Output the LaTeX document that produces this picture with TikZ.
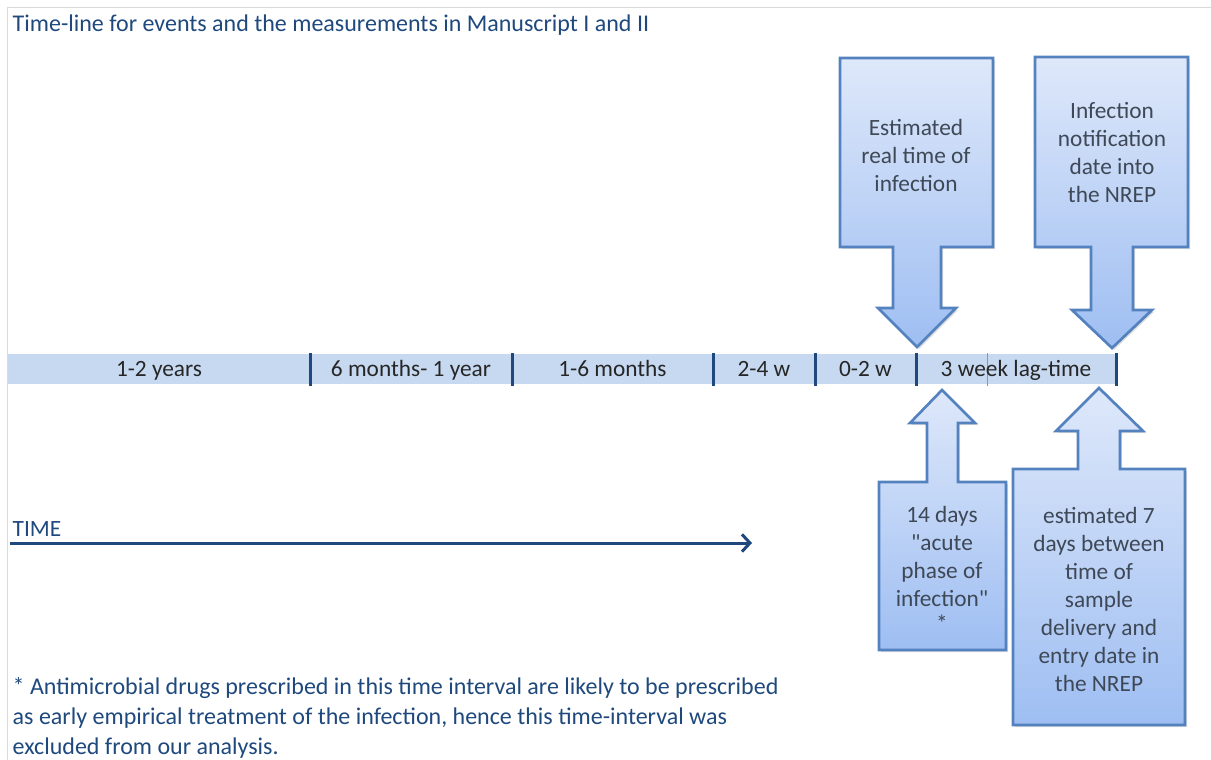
\documentclass[tikz,border=0pt]{standalone}
\usepackage{fontspec}
\setmainfont{Carlito}
\usetikzlibrary{arrows.meta, shadows}
\definecolor{timeblue}{RGB}{31, 73, 125}
\definecolor{bandfill}{RGB}{198, 217, 241}
\definecolor{calloutline}{RGB}{84, 130, 190}
\definecolor{callouttop}{RGB}{222, 232, 250}
\definecolor{calloutbot}{RGB}{158, 190, 242}
\definecolor{boxtext}{RGB}{62, 72, 86}
\definecolor{framegray}{RGB}{217, 217, 217}

\begin{document}
\begin{tikzpicture}[x=0.75pt, y=-0.75pt]%
        \tikzstyle{callout} = [draw=calloutline, line width=2pt, line join=miter,
          top color=callouttop, bottom color=calloutbot,
          drop shadow={opacity=0.25, shadow xshift=1.5pt, shadow yshift=-1.5pt}]
        \tikzstyle{boxlabel} = [align=center, text=boxtext, font=\fontsize{17.5}{21}\selectfont]
        \tikzstyle{seglabel} = [text=black!85, font=\fontsize{17.5}{21}\selectfont,
          text height=1.5ex, text depth=0.3ex]
        \tikzstyle{tick} = [timeblue, line width=2.25pt]

        \useasboundingbox (0,0) rectangle (1211,760);
        \draw[framegray, line width=0.75pt] (7,760) -- (7,7) -- (1211,7);

        \node[anchor=west, text=timeblue, font=\fontsize{18}{21}\selectfont] (title) at (8,25)
          {Time-line for events and the measurements in Manuscript I and II};

        % the band of time intervals
        \fill[bandfill] (8,354) rectangle (1116,384);
        \draw[calloutline!80, line width=0.75pt] (987,353) -- (987,386);
        \foreach \l/\r/\t [count=\i] in {8/310/1-2 years, 310/512/6 months- 1 year,
            512/713/1-6 months, 713/815/2-4 w, 815/916/0-2 w, 916/1116/3 week lag-time}{
          \node[seglabel] (seg\i) at ({(\l+\r)/2},373) {\t};
          \draw[tick] (\r,353) coordinate (tick\i) -- (\r,386);
        }

        % callouts pointing down onto the band
        \draw[callout] (840,58) -- (993,58) -- (993,247) -- (941,247) -- (941,308) -- (956,308)
          -- (917,347) -- (878,308) -- (893,308) -- (893,247) -- (840,247) -- cycle;
        \node[boxlabel] (realtime) at (916,155) {Estimated\\real time of\\infection};

        \draw[callout] (1035,57) -- (1188,57) -- (1188,247) -- (1133,247) -- (1133,310) -- (1152,310)
          -- (1112,348) -- (1072,310) -- (1091,310) -- (1091,247) -- (1035,247) -- cycle;
        \node[boxlabel] (notif) at (1112,153) {Infection\\notification\\date into\\the NREP};

        % callouts pointing up onto the band
        \draw[callout] (942,390) -- (975,423) -- (958,423) -- (958,482) -- (1006,482) -- (1006,650)
          -- (879,650) -- (879,482) -- (927,482) -- (927,423) -- (910,423) -- cycle;
        \node[boxlabel] (acute) at (942,569)
          {14 days\\\textquotedbl acute\\phase of\\infection\textquotedbl\\[-2pt]*};

        \draw[callout] (1099,388) -- (1143,431) -- (1120,431) -- (1120,469) -- (1185,469) -- (1185,725)
          -- (1013,725) -- (1013,469) -- (1078,469) -- (1078,431) -- (1056,431) -- cycle;
        \node[boxlabel] (lag) at (1099,599) {estimated 7\\days between\\time of\\sample\\delivery and\\entry date in\\the NREP};

        % time axis
        \node[anchor=west, text=timeblue, font=\fontsize{17.5}{21}\selectfont] (timelbl) at (8,529) {TIME};
        \coordinate (tstart) at (10,543);
        \coordinate (tend) at (752,543);
        \draw[timeblue, line width=2.25pt, -{Straight Barb[length=6pt, width=13pt]}] (tstart) -- (tend);

        \node[anchor=west, align=left, text=timeblue, font=\fontsize{18}{22.5}\selectfont] (note) at (8,718)
          {* Antimicrobial drugs prescribed in this time interval are likely to be prescribed\\
           as early empirical treatment of the infection, hence this time-interval was\\
           excluded from our analysis.};
      \end{tikzpicture}
\end{document}
